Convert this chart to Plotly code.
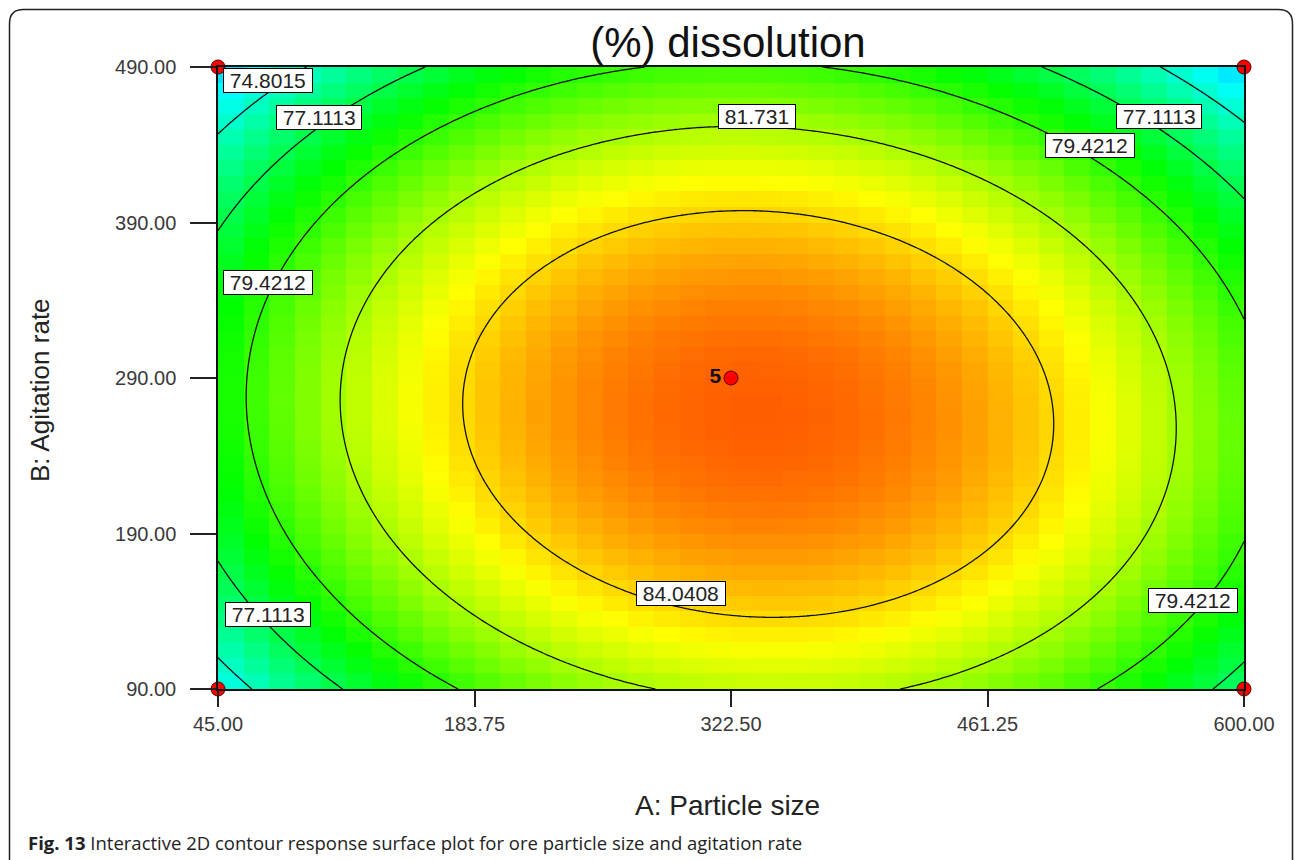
import numpy as np
import plotly.graph_objects as go

# ---- factor ranges (actual units) ----
particle_size_range = [45.0, 600.0]      # A: Particle size
agitation_rate_range = [90.0, 490.0]     # B: Agitation rate

# ---- fitted quadratic model, coded factors A, B in [-1, +1] ----
intercept = 86.26
coef_A = 0.67
coef_B = -1.22
coef_AB = -0.60
coef_A2 = -6.97
coef_B2 = -5.41

# ---- contour levels of (%) dissolution ----
contour_levels = [74.8015, 77.1113, 79.4212, 81.731, 84.0408]

# ---- axis ticks ----
x_tickvals = [45.0, 183.75, 322.5, 461.25, 600.0]
x_ticktext = ["45.00", "183.75", "322.50", "461.25", "600.00"]
y_tickvals = [90.0, 190.0, 290.0, 390.0, 490.0]
y_ticktext = ["90.00", "190.00", "290.00", "390.00", "490.00"]

# ---- design points ----
design_A = [45.0, 600.0, 45.0, 600.0, 322.5]
design_B = [90.0, 90.0, 490.0, 490.0, 290.0]
design_text = ["", "", "", "", "<b>5</b>"]

# ---- contour label placement: (level index, A, B) ----
label_spots = [
    (0, 71.8, 481.6),
    (1, 99.6, 457.8),
    (3, 336.5, 458.2),
    (1, 554.0, 458.2),
    (2, 516.7, 439.5),
    (2, 71.8, 351.7),
    (4, 295.2, 151.1),
    (1, 71.8, 137.9),
    (2, 572.4, 147.2),
]


def response(a, b):
    """Predicted dissolution for actual factor values."""
    ca = (a - sum(particle_size_range) / 2) / ((particle_size_range[1] - particle_size_range[0]) / 2)
    cb = (b - sum(agitation_rate_range) / 2) / ((agitation_rate_range[1] - agitation_rate_range[0]) / 2)
    return (intercept + coef_A * ca + coef_B * cb + coef_AB * ca * cb
            + coef_A2 * ca ** 2 + coef_B2 * cb ** 2)


# coarse cell grid for the colour map
n_cells = 40
xa = np.linspace(*particle_size_range, n_cells + 1)
ya = np.linspace(*agitation_rate_range, n_cells + 1)
xc = (xa[:-1] + xa[1:]) / 2
yc = (ya[:-1] + ya[1:]) / 2
Zc = response(xc[None, :], yc[:, None])

# fine grid for the contour lines
xf = np.linspace(*particle_size_range, 301)
yf = np.linspace(*agitation_rate_range, 301)
Zf = response(xf[None, :], yf[:, None])

W, H = 1295, 860
L, R, T, B = 218, 1244, 67, 689


def px(xp):
    return (xp - L) / (R - L)


def py(yp):
    return (B - yp) / (B - T)


fig = go.Figure()

fig.add_trace(go.Heatmap(
    x=xc, y=yc, z=Zc,
    colorscale=[[0.0, "#0000FF"], [0.25, "#00FFFF"], [0.5, "#00FF00"],
                [0.75, "#FFFF00"], [1.0, "#FF0000"]],
    zmin=69.0, zmax=88.1, showscale=False, hoverinfo="skip",
))

step = (contour_levels[-1] - contour_levels[0]) / (len(contour_levels) - 1)
fig.add_trace(go.Contour(
    x=xf, y=yf, z=Zf,
    contours=dict(start=contour_levels[0], end=contour_levels[-1] + step / 10,
                  size=step, coloring="none", showlabels=False),
    line=dict(color="#111111", width=1.3),
    showscale=False, hoverinfo="skip",
))

fig.add_trace(go.Scatter(
    x=design_A, y=design_B, mode="markers+text",
    text=design_text, textposition="middle left",
    textfont=dict(family="Arial, Liberation Sans", size=21, color="#111111"),
    marker=dict(symbol="circle", size=14, color="#FF0000",
                line=dict(color="#550000", width=1)),
    cliponaxis=False, hoverinfo="skip",
))

annotations = []
for idx, a, b in label_spots:
    annotations.append(dict(
        x=a, y=b, xref="x", yref="y",
        text="\u00a0" + f"{contour_levels[idx]:g}" + "\u00a0",
        showarrow=False, bgcolor="#FFFFFF", bordercolor="#000000",
        borderwidth=1, borderpad=0,
        font=dict(family="Arial, Liberation Sans", size=21, color="#222222"),
    ))

annotations += [
    dict(text="A: Particle size", x=px(727), y=py(805), xref="paper", yref="paper",
         showarrow=False, xanchor="center", yanchor="middle",
         font=dict(family="Arial, Liberation Sans", size=28, color="#222222")),
    dict(text="B: Agitation rate", x=px(40), y=py(390), xref="paper", yref="paper",
         showarrow=False, xanchor="center", yanchor="middle", textangle=-90,
         font=dict(family="Arial, Liberation Sans", size=26, color="#222222")),
    dict(text="<b>Fig. 13</b> Interactive 2D contour response surface plot for ore particle size and agitation rate",
         x=px(26), y=py(842), xref="paper", yref="paper",
         showarrow=False, xanchor="left", yanchor="middle",
         font=dict(family="Open Sans, Noto Sans", size=18.5, color="#222222")),
]

# rounded outer frame
x0, y0, x1, y1, r = px(9.5), py(9.5), px(1292.5), py(880), 14
rx, ry = r / (R - L), r / (B - T)
frame_path = (f"M {x0 + rx},{y0} L {x1 - rx},{y0} Q {x1},{y0} {x1},{y0 - ry} "
              f"L {x1},{y1 + ry} Q {x1},{y1} {x1 - rx},{y1} L {x0 + rx},{y1} "
              f"Q {x0},{y1} {x0},{y1 + ry} L {x0},{y0 - ry} Q {x0},{y0} {x0 + rx},{y0} Z")

fig.update_layout(
    width=W, height=H,
    margin=dict(l=L, r=W - R, t=T, b=H - B),
    paper_bgcolor="#FFFFFF", plot_bgcolor="#FFFFFF",
    title=dict(text="(%) dissolution", x=728 / W, xanchor="center", xref="container",
               y=1 - 42 / H, yanchor="middle", yref="container",
               font=dict(family="Arial, Liberation Sans", size=42, color="#111111")),
    annotations=annotations,
    shapes=[dict(type="path", path=frame_path, xref="paper", yref="paper",
                 line=dict(color="#222222", width=1.5), layer="above")],
    showlegend=False,
)

fig.update_xaxes(
    range=particle_size_range, tickvals=x_tickvals, ticktext=x_ticktext,
    ticks="outside", ticklen=16, tickwidth=1.5, tickcolor="#222222",
    showline=True, linecolor="#111111", linewidth=1.5, mirror=True,
    showgrid=False, zeroline=False,
    tickfont=dict(family="Arial, Liberation Sans", size=20, color="#3a3a3a"),
)
fig.update_yaxes(
    range=agitation_rate_range, tickvals=y_tickvals, ticktext=y_ticktext,
    ticks="outside", ticklen=26, tickwidth=1.5, tickcolor="#222222",
    showline=True, linecolor="#111111", linewidth=1.5, mirror=True,
    showgrid=False, zeroline=False, ticklabelstandoff=10,
    tickfont=dict(family="Arial, Liberation Sans", size=20, color="#3a3a3a"),
)

fig.write_html("out.html")
